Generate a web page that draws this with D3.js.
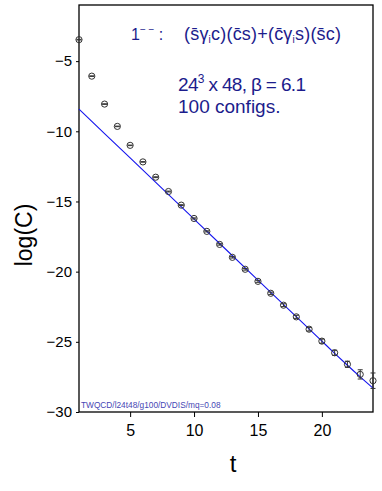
<!DOCTYPE html>
<html>
<head>
<meta charset="utf-8">
<script src="https://cdn.jsdelivr.net/npm/d3@7"></script>
<style>
  body { margin: 0; background: #fff; }
  svg { display: block; font-family: "Liberation Sans", Arial, sans-serif; }
</style>
</head>
<body>
<svg id="chart" width="382" height="491"></svg>
<script>
// correlator data
var tVals = [1, 2, 3, 4, 5, 6, 7, 8, 9, 10, 11, 12, 13, 14, 15, 16, 17, 18, 19, 20, 21, 22, 23, 24];
var logC = [-3.47, -6.07, -8.06, -9.65, -11.0, -12.18, -13.27, -14.29, -15.26, -16.21, -17.13, -18.06,
            -18.98, -19.83, -20.69, -21.54, -22.39, -23.22, -24.1, -24.95, -25.78, -26.6, -27.32, -27.77];
var logErr = [0.02, 0.02, 0.02, 0.02, 0.02, 0.02, 0.03, 0.03, 0.03, 0.04, 0.04, 0.05,
              0.05, 0.06, 0.07, 0.08, 0.1, 0.11, 0.13, 0.15, 0.18, 0.22, 0.33, 0.55];

// fit curve
var fitT = [1, 5, 10, 15, 20, 21, 22, 23, 24];
var fitLog = [-8.42, -11.9, -16.25, -20.6, -24.95, -25.82, -26.67, -27.5, -28.3];

var xTicks = [5, 10, 15, 20];
var yTicks = [-5, -10, -15, -20, -25, -30];

var svg = d3.select("#chart");
var margin = {top: 5, right: 9, bottom: 79, left: 79};
var width = 382 - margin.left - margin.right;
var height = 491 - margin.top - margin.bottom;

var x = d3.scaleLinear().domain([1, 24]).range([0, width]);
var y = d3.scaleLinear().domain([-30, -1]).range([height, 0]);

var g = svg.append("g").attr("transform", "translate(" + margin.left + "," + margin.top + ")");

// frame
g.append("rect")
    .attr("width", width)
    .attr("height", height)
    .attr("fill", "none")
    .attr("stroke", "#000")
    .attr("stroke-width", 1.3);

var xAxis = g.append("g")
    .attr("transform", "translate(0," + height + ")")
    .call(d3.axisBottom(x).tickValues(xTicks).tickSize(5).tickPadding(8).tickFormat(d3.format("d")));
var yAxis = g.append("g")
    .call(d3.axisLeft(y).tickValues(yTicks).tickSize(3).tickPadding(4).tickFormat(d3.format("d")));

[xAxis, yAxis].forEach(function (a) {
	a.select(".domain").remove();
	a.selectAll("line").attr("stroke", "#000");
	a.selectAll("text").attr("fill", "#000").style("font-family", "Liberation Sans, Arial, sans-serif");
});
xAxis.selectAll("text").attr("font-size", 16);
yAxis.selectAll("text").attr("font-size", 15);

// fit line
var line = d3.line()
    .x(function (d, i) { return x(fitT[i]); })
    .y(function (d) { return y(d); })
    .curve(d3.curveMonotoneX);

g.append("path")
    .datum(fitLog)
    .attr("d", line)
    .attr("fill", "none")
    .attr("stroke", "#1515ee")
    .attr("stroke-width", 1.1);

// error bars + markers
var pts = g.append("g").selectAll("g")
    .data(tVals)
    .enter()
  .append("g");

pts.append("line")
    .attr("x1", function (d) { return x(d); })
    .attr("x2", function (d) { return x(d); })
    .attr("y1", function (d, i) { return y(logC[i] + logErr[i]); })
    .attr("y2", function (d, i) { return y(logC[i] - logErr[i]); })
    .attr("stroke", "#333");
[1, -1].forEach(function (s) {
	pts.append("line")
	    .attr("x1", function (d) { return x(d) - 2.5; })
	    .attr("x2", function (d) { return x(d) + 2.5; })
	    .attr("y1", function (d, i) { return y(logC[i] + s * logErr[i]); })
	    .attr("y2", function (d, i) { return y(logC[i] + s * logErr[i]); })
	    .attr("stroke", "#333");
});
pts.append("circle")
    .attr("cx", function (d) { return x(d); })
    .attr("cy", function (d, i) { return y(logC[i]); })
    .attr("r", 3.1)
    .attr("fill", "none")
    .attr("stroke", "#333")
    .attr("stroke-width", 1);

// annotations
var navy = "#1c1c8c";
var t1 = svg.append("text")
    .attr("x", 131).attr("y", 40)
    .attr("font-size", 16)
    .attr("fill", navy);
t1.append("tspan").text("1");
t1.append("tspan").attr("dy", -7).attr("font-size", 10).text("\u2212 \u2212");
t1.append("tspan").attr("dy", 7).text("  :");

var t2 = svg.append("text")
    .attr("x", 184).attr("y", 40)
    .attr("font-size", 18)
    .attr("textLength", 157)
    .attr("fill", navy);
t2.append("tspan").text("(s\u0304\u03b3");
t2.append("tspan").attr("dy", 3).attr("font-size", 10).text("i");
t2.append("tspan").attr("dy", -3).text("c)(c\u0304s)+(c\u0304\u03b3");
t2.append("tspan").attr("dy", 3).attr("font-size", 10).text("i");
t2.append("tspan").attr("dy", -3).text("s)(s\u0304c)");

var t3 = svg.append("text")
    .attr("x", 178).attr("y", 91)
    .attr("font-size", 19)
    .attr("textLength", 128)
    .attr("lengthAdjust", "spacing")
    .attr("fill", navy);
t3.append("tspan").text("24");
t3.append("tspan").attr("dy", -8).attr("font-size", 12).text("3");
t3.append("tspan").attr("dy", 8).text(" x 48, \u03b2 = 6.1");

svg.append("text")
    .attr("x", 178).attr("y", 113)
    .attr("font-size", 19)
    .attr("fill", navy)
    .text("100 configs.");

svg.append("text")
    .attr("x", 81).attr("y", 408)
    .attr("font-size", 8.3)
    .attr("fill", "#4646b4")
    .text("TWQCD/l24t48/g100/DVDIS/mq=0.08");

// axis titles
svg.append("text")
    .attr("x", 233).attr("y", 472)
    .attr("text-anchor", "middle")
    .attr("font-size", 24)
    .text("t");

svg.append("text")
    .attr("transform", "translate(32,235) rotate(-90)")
    .attr("text-anchor", "middle")
    .attr("font-size", 23)
    .text("log(C)");
</script>
</body>
</html>
